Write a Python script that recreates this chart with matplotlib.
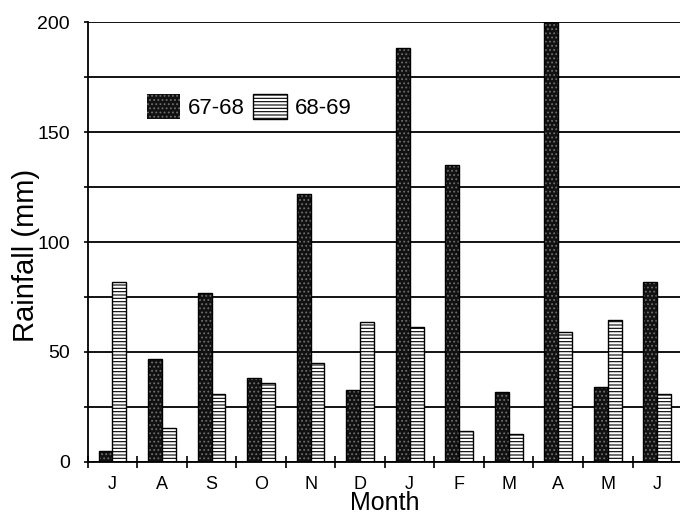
import numpy as np
import matplotlib.pyplot as plt
from matplotlib.patches import Patch

plt.rcParams['font.family'] = ['Liberation Sans', 'DejaVu Sans']
plt.rcParams['hatch.linewidth'] = 0.8

# monthly rainfall, June to June
months = ['J', 'A', 'S', 'O', 'N', 'D', 'J', 'F', 'M', 'A', 'M', 'J']
rain_6768 = [5, 47, 77, 38, 122, 32.5, 188, 135, 32, 200, 34, 82]
rain_6869 = [82, 15.5, 31, 36, 45, 63.5, 61.5, 14, 12.5, 59, 64.5, 31]

x = np.arange(len(months))
w = 0.28

fig = plt.figure(figsize=(6.8, 5.17), dpi=100)
ax = fig.add_axes([0.129, 0.1064, 0.874, 0.851])

ax.set_axisbelow(True)
ax.yaxis.grid(True, which='both', color='black', linewidth=1.3)

# dark stippled bars: fill with speckle, then black outline
ax.bar(x - w / 2, rain_6768, w, color='#111111', edgecolor='#6e6e6e',
       hatch='....', linewidth=0)
ax.bar(x - w / 2, rain_6768, w, fill=False, edgecolor='black', linewidth=1.0)
# light bars with wavy horizontal lines
ax.bar(x + w / 2, rain_6869, w, color='white', edgecolor='black',
       hatch='-----', linewidth=1.0)

ax.set_xlim(-0.5, 11.5)
ax.set_ylim(0, 200)
ax.set_yticks([0, 50, 100, 150, 200])
ax.set_yticks(np.arange(0, 201, 25), minor=True)
ax.set_xticks(x)
ax.set_xticklabels(months)
ax.set_xticks(np.arange(-0.5, 11.6, 1), minor=True)

ax.tick_params(axis='x', which='major', length=0, pad=10, labelsize=13)
ax.tick_params(axis='x', which='minor', direction='inout', length=9, width=1.2)
ax.tick_params(axis='y', which='both', direction='out', length=3, width=1.2)
ax.tick_params(axis='y', which='major', pad=10, labelsize=14)

for s in ['top', 'right']:
    ax.spines[s].set_visible(False)
ax.spines['left'].set_linewidth(1.3)
ax.spines['bottom'].set_linewidth(1.3)

ax.set_ylabel('Rainfall (mm)', fontsize=21)
ax.yaxis.set_label_coords(-0.08, 0.47)
ax.set_xlabel('Month', fontsize=18, labelpad=-1)

handles = [Patch(facecolor='#111111', edgecolor='#6e6e6e', hatch='....', linewidth=0),
           Patch(facecolor='white', edgecolor='black', hatch='-----')]
ax.legend(handles, ['67-68', '68-69'], ncol=2, frameon=False, fontsize=16,
          handlelength=1.49, handleheight=1.35, columnspacing=0.4,
          handletextpad=0.36, borderpad=0, borderaxespad=0,
          loc='upper left', bbox_to_anchor=(0.099, 0.836))

fig.savefig('out.png', dpi=100)
